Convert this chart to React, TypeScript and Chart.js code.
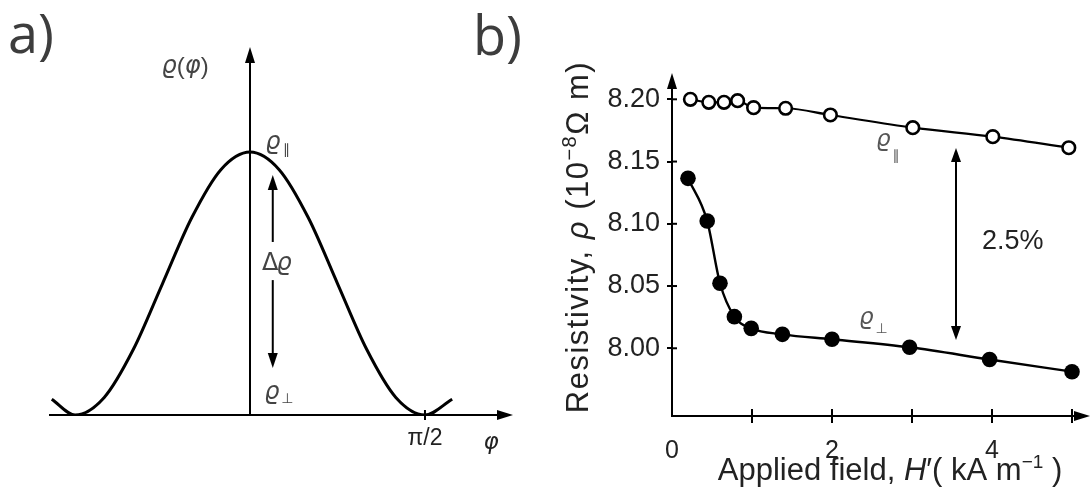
import React, { useEffect, useRef } from 'react';
import { Chart, registerables } from 'chart.js';
Chart.register(...registerables);

// ---------- Panel a: schematic rho(phi) ----------
const phiAngles = [-102, -90, -75, -60, -45, -30, -15, 0, 15, 30, 45, 60, 75, 90, 104];
const rhoOfPhi = [0.06, 0, 0.067, 0.25, 0.5, 0.75, 0.933, 1, 0.933, 0.75, 0.5, 0.25, 0.067, 0, 0.06];
const phiTickValues = [90];
const phiTickLabels = ['π/2'];

// ---------- Panel b: resistivity vs applied field ----------
const fieldParallel = [0.23, 0.46, 0.65, 0.82, 1.02, 1.42, 1.98, 3.01, 4.01, 4.96];
const rhoParallel = [8.2, 8.1976, 8.1976, 8.1989, 8.1933, 8.1928, 8.1874, 8.1772, 8.17, 8.1611];
const fieldPerp = [0.2, 0.44, 0.6, 0.78, 0.99, 1.38, 2.0, 2.97, 3.97, 5.0];
const rhoPerp = [8.1365, 8.1022, 8.0522, 8.0254, 8.016, 8.0112, 8.0072, 8.0008, 7.991, 7.9812];
const fieldTickValues = [0, 1, 2, 3, 4, 5];
const fieldTickLabels = ['0', '', '2', '', '4', ''];
const rhoTickValues = [8.0, 8.05, 8.1, 8.15, 8.2];
const rhoTickLabels = ['8.00', '8.05', '8.10', '8.15', '8.20'];

const FONT = '"Liberation Sans", Arial, Helvetica, sans-serif';
const GREEK = '"DejaVu Sans", sans-serif';

type Seg = { t: string; f: string; dy?: number };

function segsWidth(ctx: CanvasRenderingContext2D, segs: Seg[]) {
  let w = 0;
  for (const s of segs) {
    ctx.font = s.f;
    w += ctx.measureText(s.t).width;
  }
  return w;
}
function drawSegs(ctx: CanvasRenderingContext2D, segs: Seg[], x: number, y: number) {
  let cx = x;
  for (const s of segs) {
    ctx.font = s.f;
    ctx.fillText(s.t, cx, y + (s.dy || 0));
    cx += ctx.measureText(s.t).width;
  }
}
function arrowHead(ctx: CanvasRenderingContext2D, tx: number, ty: number, dx: number, dy: number, len: number, half: number) {
  const bx = tx - dx * len;
  const by = ty - dy * len;
  const nx = -dy;
  const ny = dx;
  ctx.beginPath();
  ctx.moveTo(tx, ty);
  ctx.lineTo(bx + nx * half, by + ny * half);
  ctx.lineTo(bx - nx * half, by - ny * half);
  ctx.closePath();
  ctx.fill();
}
function vArrow(ctx: CanvasRenderingContext2D, x: number, tail: number, tip: number, len: number, half: number) {
  const dir = tip < tail ? -1 : 1;
  ctx.beginPath();
  ctx.moveTo(x, tail);
  ctx.lineTo(x, tip - dir * (len - 2));
  ctx.stroke();
  arrowHead(ctx, x, tip, 0, dir, len, half);
}

const annotA = {
  id: 'annotA',
  afterDraw(chart: any) {
    const { ctx, chartArea } = chart;
    const xs = chart.scales.x;
    const ys = chart.scales.y;
    const X = (v: number) => xs.getPixelForValue(v);
    const Y = (v: number) => ys.getPixelForValue(v);
    ctx.save();
    ctx.fillStyle = '#000';
    ctx.strokeStyle = '#000';
    ctx.lineWidth = 2;
    arrowHead(ctx, X(0), chartArea.top - 13, 0, -1, 16, 5);
    arrowHead(ctx, chartArea.right + 13, chartArea.bottom, 1, 0, 16, 5);
    for (const v of phiTickValues) {
      ctx.beginPath();
      ctx.moveTo(X(v), chartArea.bottom);
      ctx.lineTo(X(v), chartArea.bottom - 5);
      ctx.stroke();
    }
    const ax = X(11.7);
    vArrow(ctx, ax, Y(0.658), Y(0.913), 15, 5);
    vArrow(ctx, ax, Y(0.513), Y(0.179), 15, 5);

    ctx.fillStyle = '#444';
    ctx.textBaseline = 'middle';
    const lab: Seg[] = [
      { t: 'ϱ', f: `italic 24px ${GREEK}` },
      { t: '(', f: `24px ${FONT}` },
      { t: 'φ', f: `italic 24px ${GREEK}` },
      { t: ')', f: `24px ${FONT}` },
    ];
    ctx.textAlign = 'left';
    const w = segsWidth(ctx, lab);
    drawSegs(ctx, lab, X(-33.4) - w / 2, Y(1.323));

    ctx.textAlign = 'center';
    ctx.font = `italic 24px ${GREEK}`;
    ctx.fillText('ϱ', X(11.8), Y(1.034));
    ctx.font = `14px ${GREEK}`;
    ctx.fillText('∥', X(18.8), Y(1.006));

    ctx.font = `24px ${GREEK}`;
    ctx.fillText('Δ', X(10.4), Y(0.575));
    ctx.font = `italic 24px ${GREEK}`;
    ctx.fillText('ϱ', X(17.6), Y(0.575));

    ctx.font = `italic 24px ${GREEK}`;
    ctx.fillText('ϱ', X(11.3), Y(0.084));
    ctx.font = `14px ${GREEK}`;
    ctx.fillText('⊥', X(19.2), Y(0.058));

    ctx.fillStyle = '#222';
    ctx.font = `italic 23px ${GREEK}`;
    ctx.fillText('φ', X(124), Y(-0.106));

    ctx.fillStyle = '#3d3d3d';
    ctx.textAlign = 'left';
    ctx.textBaseline = 'alphabetic';
    ctx.font = '54px "Open Sans", sans-serif';
    ctx.fillText('a)', 8, 53);
    ctx.fillText('b)', 473, 55);
    ctx.restore();
  },
};

const annotB = {
  id: 'annotB',
  afterDraw(chart: any) {
    const { ctx, chartArea } = chart;
    const xs = chart.scales.x;
    const ys = chart.scales.y;
    const X = (v: number) => xs.getPixelForValue(v);
    const Y = (v: number) => ys.getPixelForValue(v);
    ctx.save();
    ctx.fillStyle = '#000';
    ctx.strokeStyle = '#000';
    ctx.lineWidth = 2;
    arrowHead(ctx, chartArea.left, chartArea.top - 9, 0, -1, 16, 5);
    arrowHead(ctx, chartArea.right + 10, chartArea.bottom, 1, 0, 16, 5);
    for (const v of rhoTickValues) {
      ctx.beginPath();
      ctx.moveTo(chartArea.left, Y(v));
      ctx.lineTo(chartArea.left + 5, Y(v));
      ctx.stroke();
    }
    for (const v of fieldTickValues) {
      if (v === 0) continue;
      ctx.beginPath();
      ctx.moveTo(X(v), chartArea.bottom);
      ctx.lineTo(X(v), chartArea.bottom - 7);
      ctx.stroke();
    }
    const ax = X(3.55);
    const yTop = Y(8.1609);
    const yBot = Y(8.0067);
    ctx.beginPath();
    ctx.moveTo(ax, yTop + 12);
    ctx.lineTo(ax, yBot - 12);
    ctx.stroke();
    arrowHead(ctx, ax, yTop, 0, -1, 14, 5);
    arrowHead(ctx, ax, yBot, 0, 1, 14, 5);

    ctx.fillStyle = '#222';
    ctx.textBaseline = 'middle';
    ctx.textAlign = 'left';
    ctx.font = `27px ${FONT}`;
    ctx.fillText('2.5%', X(3.875), Y(8.0854));

    ctx.fillStyle = '#555';
    ctx.textAlign = 'center';
    ctx.font = `italic 23px ${GREEK}`;
    ctx.fillText('ϱ', X(2.64), Y(8.1673));
    ctx.font = `14px ${GREEK}`;
    ctx.fillText('∥', X(2.8), Y(8.1545));
    ctx.font = `italic 23px ${GREEK}`;
    ctx.fillText('ϱ', X(2.43), Y(8.0243));
    ctx.font = `14px ${GREEK}`;
    ctx.fillText('⊥', X(2.62), Y(8.0155));

    ctx.fillStyle = '#222';
    ctx.textAlign = 'left';
    ctx.textBaseline = 'alphabetic';
    const yTitle: Seg[] = [
      { t: 'Resistivity, ', f: `31px ${FONT}` },
      { t: 'ρ', f: `italic 31px ${FONT}` },
      { t: ' (10', f: `31px ${FONT}` },
      { t: '−8', f: `20px ${FONT}`, dy: -12 },
      { t: 'Ω m)', f: `31px ${FONT}` },
    ];
    ctx.save();
    (ctx as any).letterSpacing = '1.5px';
    const wy = segsWidth(ctx, yTitle);
    ctx.translate(48, 237);
    ctx.rotate(-Math.PI / 2);
    drawSegs(ctx, yTitle, -wy / 2, 0);
    ctx.restore();

    const xTitle: Seg[] = [
      { t: 'Applied field, ', f: `31px ${FONT}` },
      { t: 'H', f: `italic 31px ${FONT}` },
      { t: '′', f: `31px ${FONT}` },
      { t: '( kA m', f: `31px ${FONT}` },
      { t: '−1', f: `19px ${FONT}`, dy: -12 },
      { t: ' )', f: `31px ${FONT}` },
    ];
    const wx = segsWidth(ctx, xTitle);
    drawSegs(ctx, xTitle, 350 - wx / 2, 480);
    ctx.restore();
  },
};

function PanelA() {
  const ref = useRef<HTMLCanvasElement>(null);
  useEffect(() => {
    const chart = new Chart(ref.current as HTMLCanvasElement, {
      type: 'line',
      data: {
        datasets: [
          {
            data: phiAngles.map((p, i) => ({ x: p, y: rhoOfPhi[i] })),
            borderColor: '#000',
            borderWidth: 3,
            pointRadius: 0,
            cubicInterpolationMode: 'monotone',
            fill: false,
          },
        ],
      },
      options: {
        responsive: false,
        animation: false,
        layout: { padding: { left: 50, right: 40, top: 60, bottom: 38 } },
        plugins: { legend: { display: false }, tooltip: { enabled: false } },
        scales: {
          x: {
            type: 'linear',
            min: -102.9,
            max: 128.6,
            position: 'bottom',
            afterBuildTicks: (s: any) => {
              s.ticks = phiTickValues.map((v) => ({ value: v }));
            },
            afterFit: (s: any) => {
              s.height = 40;
            },
            ticks: {
              autoSkip: false,
              maxRotation: 0,
              padding: 5,
              color: '#222',
              font: { family: FONT, size: 23 },
              callback: (v: any) => {
                const i = phiTickValues.indexOf(Number(v));
                return i >= 0 ? phiTickLabels[i] : '';
              },
            },
            grid: { display: true, drawOnChartArea: false, drawTicks: true, tickLength: 5, color: '#000', lineWidth: 2 },
            border: { display: true, color: '#000', width: 2 },
          },
          y: {
            type: 'linear',
            min: 0,
            max: 1.35,
            position: { x: 0 } as any,
            ticks: { display: false },
            grid: { display: false },
            border: { display: true, color: '#000', width: 2 },
          },
        },
      } as any,
      plugins: [annotA],
    });
    return () => chart.destroy();
  }, []);
  return <canvas ref={ref} width={540} height={493} style={{ position: 'absolute', left: 0, top: 0, display: 'block' }} />;
}

function PanelB() {
  const ref = useRef<HTMLCanvasElement>(null);
  useEffect(() => {
    const chart = new Chart(ref.current as HTMLCanvasElement, {
      type: 'line',
      data: {
        datasets: [
          {
            data: fieldParallel.map((x, i) => ({ x, y: rhoParallel[i] })),
            borderColor: '#000',
            borderWidth: 2.2,
            pointRadius: 6.3,
            pointBackgroundColor: '#fff',
            pointBorderColor: '#000',
            pointBorderWidth: 2.6,
            cubicInterpolationMode: 'monotone',
            fill: false,
          },
          {
            data: fieldPerp.map((x, i) => ({ x, y: rhoPerp[i] })),
            borderColor: '#000',
            borderWidth: 2.4,
            pointRadius: 7.8,
            pointBackgroundColor: '#000',
            pointBorderColor: '#000',
            pointBorderWidth: 0,
            cubicInterpolationMode: 'monotone',
            fill: false,
          },
        ],
      },
      options: {
        responsive: false,
        animation: false,
        layout: { padding: { left: 0, right: 11, top: 82, bottom: 0 } },
        plugins: { legend: { display: false }, tooltip: { enabled: false } },
        scales: {
          x: {
            type: 'linear',
            min: 0,
            max: 5.1,
            position: 'bottom',
            afterBuildTicks: (s: any) => {
              s.ticks = fieldTickValues.map((v) => ({ value: v }));
            },
            afterFit: (s: any) => {
              s.height = 77;
            },
            ticks: {
              autoSkip: false,
              maxRotation: 0,
              padding: 13,
              color: '#222',
              font: { family: FONT, size: 25 },
              callback: (v: any) => {
                const i = fieldTickValues.indexOf(Number(v));
                return i >= 0 ? fieldTickLabels[i] : '';
              },
            },
            grid: {
              display: true,
              drawOnChartArea: false,
              drawTicks: true,
              tickLength: 7,
              lineWidth: 2,
              color: (c: any) => (c.tick && c.tick.value === 0 ? 'rgba(0,0,0,0)' : '#000'),
            },
            border: { display: true, color: '#000', width: 2 },
          },
          y: {
            type: 'linear',
            min: 7.9456,
            max: 8.2139,
            position: 'left',
            afterBuildTicks: (s: any) => {
              s.ticks = rhoTickValues.map((v) => ({ value: v }));
            },
            afterFit: (s: any) => {
              s.width = 132;
            },
            ticks: {
              autoSkip: false,
              padding: 7,
              color: '#222',
              font: { family: FONT, size: 27 },
              callback: (v: any) => {
                const i = rhoTickValues.findIndex((t) => Math.abs(t - Number(v)) < 1e-6);
                return i >= 0 ? rhoTickLabels[i] : '';
              },
            },
            grid: { display: true, drawOnChartArea: false, drawTicks: true, tickLength: 5, color: '#000', lineWidth: 2 },
            border: { display: true, color: '#000', width: 2 },
          },
        },
      } as any,
      plugins: [annotB],
    });
    return () => chart.destroy();
  }, []);
  return <canvas ref={ref} width={551} height={493} style={{ position: 'absolute', left: 540, top: 0, display: 'block' }} />;
}

export default function App() {
  return (
    <div style={{ position: 'fixed', left: 0, top: 0, width: 1091, height: 493, background: '#fff', overflow: 'hidden' }}>
      <PanelA />
      <PanelB />
    </div>
  );
}
